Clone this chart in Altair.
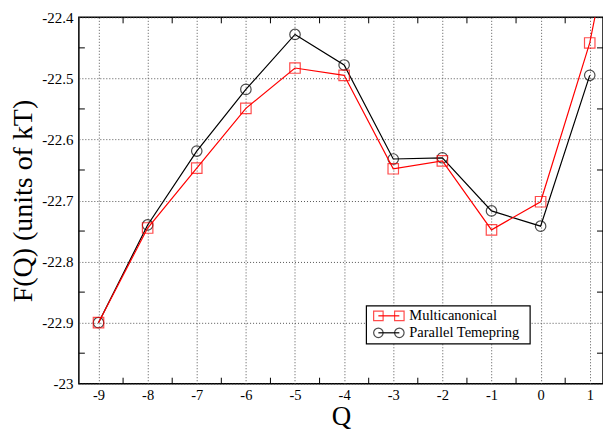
import altair as alt
import pandas as pd

# Free energy profile F(Q) from two sampling methods
q_values = [-9, -8, -7, -6, -5, -4, -3, -2, -1, 0, 1, 2]
multicanonical = [-22.900, -22.745, -22.647, -22.549, -22.483, -22.495,
                  -22.648, -22.635, -22.748, -22.702, -22.442, -22.04]
q_values_pt = [-9, -8, -7, -6, -5, -4, -3, -2, -1, 0, 1]
parallel_tempering = [-22.900, -22.740, -22.619, -22.518, -22.428, -22.478,
                      -22.632, -22.630, -22.717, -22.742, -22.495]

series_names = ["Multicanonical", "Parallel Temepring"]
series_colors = ["#ff0000", "#000000"]
series_shapes = ["square", "circle"]

x_ticks_major = list(range(-9, 2))
x_ticks_minor = [-8.5, -7.5, -6.5, -5.5, -4.5, -3.5, -2.5, -1.5, -0.5, 0.5]
y_ticks_major = [-23.0, -22.9, -22.8, -22.7, -22.6, -22.5, -22.4]
y_ticks_minor = [-22.95, -22.85, -22.75, -22.65, -22.55, -22.45]

W, H = 525, 367
FONT = "Liberation Serif"

x_scale = alt.Scale(domain=[-9.4, 1.27], nice=False, zero=False)
y_scale = alt.Scale(domain=[-23.0, -22.4], nice=False, zero=False)

x_axis = alt.Axis(values=x_ticks_major, title="Q", grid=True, domain=False,
                  ticks=False, labelPadding=5, labelFont=FONT, labelFontSize=14.5,
                  titleFont=FONT, titleFontSize=27, titleFontWeight="normal",
                  titlePadding=1, labelExpr="'' + datum.value")
y_axis = alt.Axis(values=y_ticks_major, title="F(Q) (units of kT)", grid=True,
                  domain=False, ticks=False, labelPadding=6, labelFont=FONT,
                  labelFontSize=15, titleFont=FONT, titleFontSize=28,
                  titleFontWeight="normal", titlePadding=4,
                  labelExpr="'' + datum.value")

df_mc = pd.DataFrame({"Q": q_values, "F": multicanonical})
df_pt = pd.DataFrame({"Q": q_values_pt, "F": parallel_tempering})

X = alt.X("Q:Q", scale=x_scale, axis=x_axis)
Y = alt.Y("F:Q", scale=y_scale, axis=y_axis)


def series_layer(df, color, shape):
    line = alt.Chart(df).mark_line(color=color, strokeWidth=1.2, clip=True).encode(x=X, y=Y)
    pts = alt.Chart(df).mark_point(shape=shape, color=color, filled=False,
                                   size=110, strokeWidth=1.2, clip=True).encode(x=X, y=Y)
    return line + pts


mc = series_layer(df_mc, series_colors[0], series_shapes[0])
pt = series_layer(df_pt, series_colors[1], series_shapes[1])

# inward minor ticks on all four sides
xt = pd.DataFrame({"Q": x_ticks_minor})
yt = pd.DataFrame({"F": y_ticks_minor})
tick_len = 6
xs = alt.X("Q:Q", scale=x_scale)
ys = alt.Y("F:Q", scale=y_scale)
ticks = (
    alt.Chart(xt).mark_rule(color="black", strokeWidth=1).encode(x=xs, y=alt.value(H), y2=alt.value(H - tick_len))
    + alt.Chart(xt).mark_rule(color="black", strokeWidth=1).encode(x=xs, y=alt.value(0), y2=alt.value(tick_len))
    + alt.Chart(yt).mark_rule(color="black", strokeWidth=1).encode(y=ys, x=alt.value(0), x2=alt.value(tick_len))
    + alt.Chart(yt).mark_rule(color="black", strokeWidth=1).encode(y=ys, x=alt.value(W), x2=alt.value(W - tick_len))
)

# legend box with marker-line-marker samples
one = pd.DataFrame({"k": [0]})
box = alt.Chart(one).mark_rect(fill="white", stroke="black", strokeWidth=1.2).encode(
    x=alt.value(288), x2=alt.value(452), y=alt.value(289), y2=alt.value(327))
legend = box
row_y = [299, 316]
for name, color, shape, yy in zip(series_names, series_colors, series_shapes, row_y):
    d = pd.DataFrame({"name": [name]})
    legend += alt.Chart(d).mark_rule(color=color, strokeWidth=1.2).encode(
        x=alt.value(300), x2=alt.value(321), y=alt.value(yy))
    legend += alt.Chart(d).mark_point(shape=shape, color=color, filled=False, size=90,
                                      strokeWidth=1.2).encode(x=alt.value(300), y=alt.value(yy))
    legend += alt.Chart(d).mark_point(shape=shape, color=color, filled=False, size=90,
                                      strokeWidth=1.2).encode(x=alt.value(321), y=alt.value(yy))
    legend += alt.Chart(d).mark_text(align="left", baseline="middle", font=FONT, fontSize=14.5,
                                     color="black").encode(
        x=alt.value(331), y=alt.value(yy), text="name:N")

chart = (
    alt.layer(pt, mc, ticks, legend)
    .properties(width=W, height=H,
                autosize=alt.AutoSizeParams(type="none"),
                padding={"left": 79, "top": 17, "right": 0, "bottom": 48})
    .configure(font=FONT, background="white")
    .configure_view(stroke="black", strokeWidth=1.5)
    .configure_axis(labelFont=FONT, titleFont=FONT, labelColor="black", titleColor="black",
                    titleFontWeight="normal", gridColor="#555555", gridDash=[1, 2],
                    gridWidth=1, gridOpacity=1)
)

chart.save("out.html", embed_options={"renderer": "svg", "actions": False})
